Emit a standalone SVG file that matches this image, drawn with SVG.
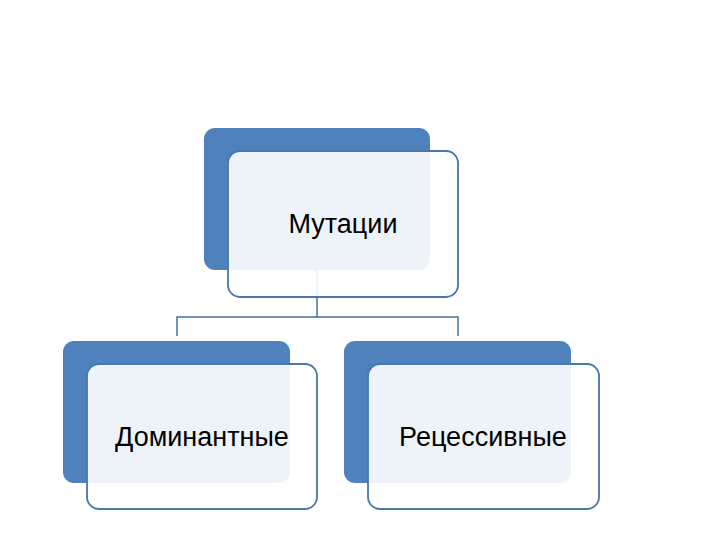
<svg xmlns="http://www.w3.org/2000/svg" width="720" height="540" viewBox="0 0 720 540">
<style>
.back{fill:#4f81bd}
.front{fill:#ffffff;fill-opacity:0.9;stroke:#4a76a8;stroke-width:1.8}
.lbl{font-family:"Liberation Sans",Arial,sans-serif;font-size:27px;fill:#000;text-anchor:middle}
.conn{fill:none;stroke:#41719c;stroke-width:1.5}
</style>
<rect width="720" height="540" fill="#ffffff"/>
<g id="connectors">
<path class="conn" d="M317 270 V317 M177 336 V317 H458 V336"/>
</g>
<g id="node-mutations">
<rect class="back" x="204" y="128" width="226" height="142" rx="11"/>
<rect class="front" x="228" y="151" width="230" height="146" rx="12"/>
<text class="lbl" x="343" y="233">Мутации</text>
</g>
<g id="node-dominant">
<rect class="back" x="63" y="341" width="227" height="142" rx="11"/>
<rect class="front" x="87" y="364" width="230" height="145" rx="12"/>
<text class="lbl" x="202" y="446">Доминантные</text>
</g>
<g id="node-recessive">
<rect class="back" x="344" y="341" width="227" height="142" rx="11"/>
<rect class="front" x="368" y="364" width="231" height="145" rx="12"/>
<text class="lbl" x="483" y="446">Рецессивные</text>
</g>
</svg>
